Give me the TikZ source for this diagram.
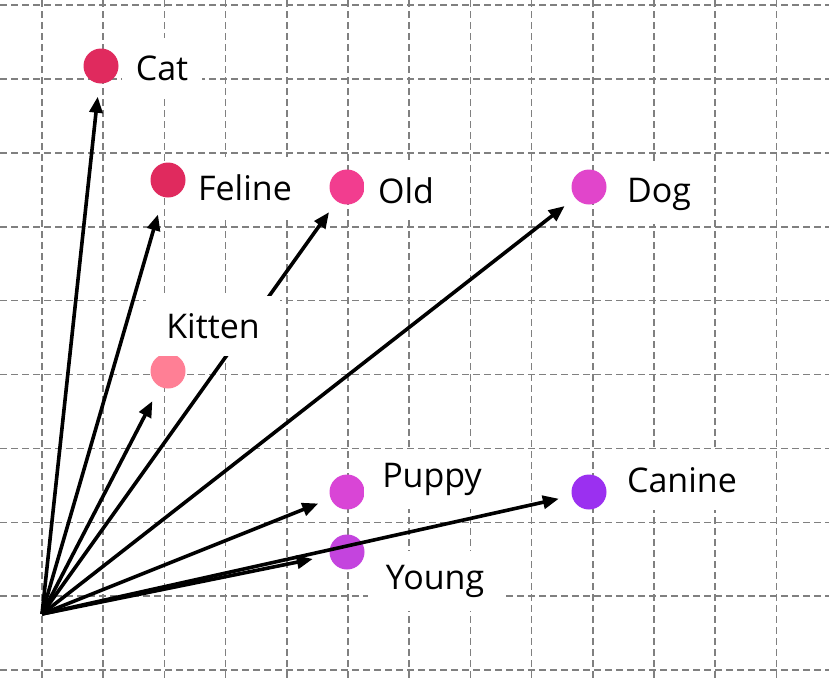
\documentclass[tikz,border=0pt]{standalone}
\usepackage{fontspec}
\setmainfont{Open Sans}
\usetikzlibrary{arrows.meta}

\definecolor{catred}{HTML}{E02A5E}
\definecolor{oldpink}{HTML}{F23D8F}
\definecolor{dogpink}{HTML}{E145CB}
\definecolor{kittenpink}{HTML}{FF7F95}
\definecolor{puppypink}{HTML}{D945D6}
\definecolor{youngviolet}{HTML}{C444DE}
\definecolor{caninepurple}{HTML}{9B30F0}

\begin{document}
\begin{tikzpicture}[x=1pt, y=-1pt, thick,
    gridline/.style={draw=gray, line width=1.6pt, dash pattern=on 7pt off 4pt},
    dot/.style={circle, inner sep=0pt, minimum size=35pt},
    vec/.style={line width=3.6pt, -{Triangle[length=16pt,width=13pt]}, shorten >=13pt},
    word/.style={fill=white, anchor=base, inner xsep=14pt, minimum height=60pt,
                 font=\fontsize{34}{40}\selectfont}]

    % 1. Canvas and dashed grid
    \fill[white] (0,0) rectangle (829,680);
    \useasboundingbox (0,0) rectangle (829,680);
    \foreach \gx in {0,...,12} {
        \draw[gridline] (42+61.2*\gx,0) -- (42+61.2*\gx,680);
    }
    \foreach \gy in {0,...,9} {
        \draw[gridline] (0,5+73.9*\gy) -- (829,5+73.9*\gy);
    }

    % 2. Word points
    \coordinate (O) at (42,614);
    \node[dot, fill=catred]       (cat)    at (101,66)  {};
    \node[dot, fill=catred]       (feline) at (168,180) {};
    \node[dot, fill=oldpink]      (old)    at (347,187) {};
    \node[dot, fill=dogpink]      (dog)    at (589,187) {};
    \node[dot, fill=kittenpink]   (kitten) at (168,371) {};
    \node[dot, fill=puppypink]    (puppy)  at (347,492) {};
    \node[dot, fill=youngviolet]  (young)  at (347,552) {};
    \node[dot, fill=caninepurple] (canine) at (589,492) {};

    % 3. Vectors from the origin
    \draw[vec] (O) -- (cat);
    \draw[vec, shorten >=18pt] (O) -- (feline);
    \draw[vec] (O) -- (old);
    \draw[vec] (O) -- (dog);
    \draw[vec, shorten >=16pt] (O) -- (kitten);
    \draw[vec] (O) -- (puppy);
    \draw[vec, shorten >=17pt] (O) -- (young);
    \draw[vec] (O) -- (canine);

    % 4. Labels on white patches
    \node[word] (catLabel)    at (162,80)  {Cat};
    \node[word, inner xsep=10pt] (felineLabel) at (245,200) {Feline};
    \node[word] (oldLabel)    at (406,203) {Old};
    \node[word, inner xsep=18pt] (dogLabel) at (659,202) {Dog};
    \node[word, minimum width=134pt] (kittenLabel) at (213,338) {Kitten};
    \node[word, inner xsep=18pt] (puppyLabel)  at (432,487) {Puppy};
    \node[word, inner xsep=18pt] (youngLabel)  at (435,589) {Young};
    \node[word, inner xsep=18pt] (canineLabel) at (682,492) {Canine};

\end{tikzpicture}
\end{document}
